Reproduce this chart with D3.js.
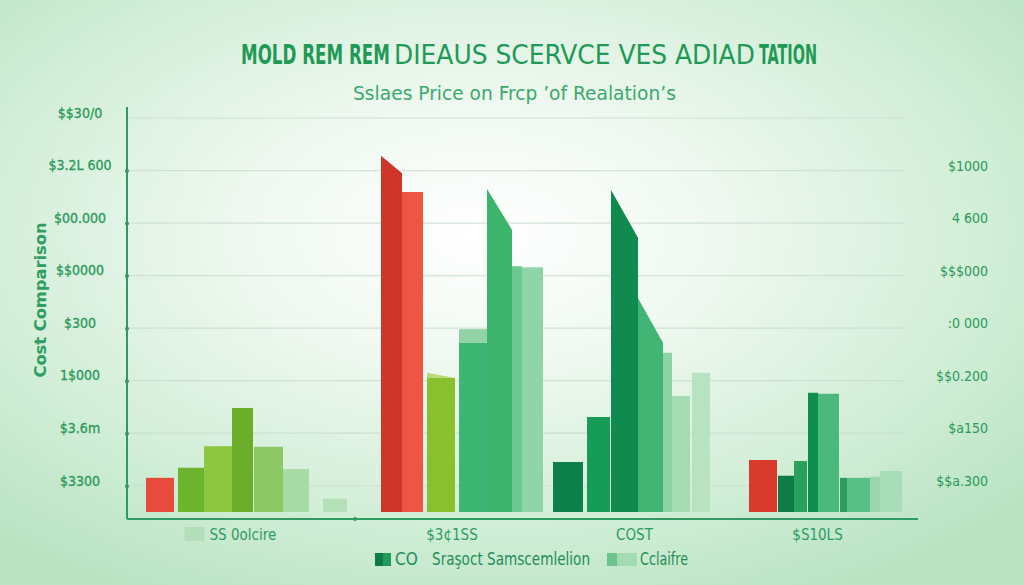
<!DOCTYPE html>
<html>
<head>
<meta charset="utf-8">
<script src="https://cdn.jsdelivr.net/npm/d3@7"></script>
<style>
  html, body { margin: 0; padding: 0; background: #e6f5ea; }
  svg { display: block; }
</style>
</head>
<body>
<svg id="chart" width="1024" height="585"></svg>
<script>
// ---------------- DATA ----------------
const titleParts = ["MOLD REM REM", "DIEAUS SCERVCE VES ADIAD", "TATION"];
const subtitle = "Sslaes Price  on Frcp \u2019of Realation\u2019s";
const yAxisTitle = "Cost Comparison";
const categories = ["SS 0olcire", "$3\u00a21SS", "COST", "$S10LS"];

const group1Values = [650, 840, 1250, 1980, 1240, 820, 250];
const group2Values = [6780, 6090, 2550, 3220, 6150, 4680, 4660];
const group3Values = [950, 1810, 6130, 4070, 3030, 2210, 2650];
const group4Values = [990, 690, 970, 2270, 2250, 650, 650, 670, 780];

// value at the right edge of slanted bar tops
const group2EndValues = [6450, 6090, 2550, 3220, 5370, 4680, 4660];
const group3EndValues = [950, 1810, 5220, 3220, 3030, 2210, 2650];
// light cap segments above some bars
const group2CapValues = [null, null, 2650, 3480, null, null, null];
const group2CapEndValues = [null, null, 2550, 3480, null, null, null];

const leftTickValues = [500, 1500, 2500, 3500, 4500, 5500, 6500, 7500];
const leftTickLabels = ["$3300", "$3.6m", "1$000", "$300", "$$0000", "$00.000", "$3.2L 600", "$$30/0"];
const rightTickValues = [500, 1500, 2500, 3500, 4500, 5500, 6500];
const rightTickLabels = ["$$a.300", "$a150", "$$0.200", ":0 000", "$$$000", "4  600", "$1000"];

const legendLabels = ["CO", "Sra\u015foct Samscemlelion", "Cclaifre"];

// ---------------- STYLE / LAYOUT ----------------
const FONT = "'Liberation Sans Narrow','DejaVu Sans Condensed','Arial Narrow',sans-serif";
const groupColors = [
  ["#e84a3b", "#6cb42e", "#8dc63f", "#6aae2a", "#8cc964", "#a9dba6", "#b4e0b7"],
  ["#d0352a", "#ee5544", "#88c02e", "#3db573", "#3cb46c", "#6cc791", "#90d5a9"],
  ["#0c7f4b", "#179c58", "#0f8b50", "#42b574", "#8bd2a4", "#a6dcb3", "#b8e3c1"],
  ["#d93a2e", "#0e7c46", "#2aa05d", "#0f8f4f", "#4bb97b", "#2b9c5d", "#58bf86", "#9bd7ae", "#a9ddb8"]
];
const capColors = [null, null, "#b9dc78", "#8fd3a6", null, null, null];
const barWidths = [
  [28, 26, 28, 21, 29, 26, 24],
  [21, 21, 28, 28, 25, 10, 21],
  [30, 23, 27, 25, 9, 18, 18],
  [28, 16, 13, 10, 21, 7, 23, 10, 22]
];
const barGaps = [
  [0, 4, 0, 0, 1, 0, 14],
  [0, 0, 4, 4, 0, 0, 0],
  [0, 4, 1, 0, 0, 0, 2],
  [0, 1, 0, 1, 0, 1, 0, 0, 0]
];
const groupGaps = [0, 34, 10, 39];
const labelShift = [-17, -10, 3, -8];

const values = [group1Values, group2Values, group3Values, group4Values];
const endValues = [group1Values, group2EndValues, group3EndValues, group4Values];
const caps = [[], group2CapValues, [], []];
const capEnds = [[], group2CapEndValues, [], []];

// build bar list (layout in slot units)
const bars = [];
const groupExtents = [];
let cursor = 0;
values.forEach((vals, g) => {
  cursor += groupGaps[g];
  const start = cursor + barGaps[g][0];
  vals.forEach((v, i) => {
    cursor += barGaps[g][i];
    bars.push({
      g, i, value: v, end: endValues[g][i],
      cap: caps[g][i] ?? null, capEnd: capEnds[g][i] ?? null,
      u0: cursor, u1: cursor + barWidths[g][i],
      color: groupColors[g][i], capColor: g === 1 ? capColors[i] : null
    });
    cursor += barWidths[g][i];
  });
  groupExtents.push([start, cursor]);
});
const totalUnits = cursor;

// ---------------- DRAW ----------------
const svg = d3.select("#chart");
const W = 1024, H = 585;

const defs = svg.append("defs");
const bg = defs.append("radialGradient").attr("id", "bg")
  .attr("cx", "47%").attr("cy", "40%").attr("r", "70%");
bg.append("stop").attr("offset", "0%").attr("stop-color", "#ffffff");
bg.append("stop").attr("offset", "30%").attr("stop-color", "#f1f9f2");
bg.append("stop").attr("offset", "70%").attr("stop-color", "#d2eed8");
bg.append("stop").attr("offset", "100%").attr("stop-color", "#b9e3c3");
svg.append("rect").attr("width", W).attr("height", H).attr("fill", "url(#bg)");

const plot = { left: 127, right: 905, top: 107, base: 512, axisY: 519 };
const x = d3.scaleLinear().domain([0, totalUnits]).range([146, 902]);
const y = d3.scaleLinear().domain([0, 7500]).range([plot.base, 118]);

// gridlines
svg.append("g").selectAll("line").data(leftTickValues).join("line")
  .attr("x1", plot.left).attr("x2", plot.right)
  .attr("y1", d => y(d)).attr("y2", d => y(d))
  .attr("stroke", "#c9ddd0").attr("stroke-width", 1.2).attr("opacity", 0.8);

// helper: place text at x with a horizontally scaled fit to a target width
function fitText(sel, x0, y0, target) {
  const natural = sel.node().getComputedTextLength();
  const k = target / natural;
  sel.attr("x", 0).attr("y", 0)
    .attr("transform", `translate(${x0},${y0}) scale(${k},1)`);
}

// title (three adjacent pieces with mixed weight)
const titleSpec = [
  { x: 241, len: 149, weight: "bold" },
  { x: 394, len: 361, weight: "normal" },
  { x: 759, len: 58, weight: "bold" }
];
titleParts.forEach((t, i) => {
  const el = svg.append("text")
    .attr("font-family", FONT).attr("font-size", 26)
    .attr("font-weight", titleSpec[i].weight).attr("fill", "#1f9a56")
    .text(t);
  fitText(el, titleSpec[i].x, 64, titleSpec[i].len);
});

const sub = svg.append("text")
  .attr("font-family", FONT).attr("font-size", 20).attr("fill", "#3aaa6c")
  .text(subtitle);
fitText(sub, 353, 100, 323);

// y axis title
svg.append("text")
  .attr("transform", "translate(46,300) rotate(-90)")
  .attr("text-anchor", "middle")
  .attr("font-family", FONT).attr("font-size", 15).attr("font-weight", "bold")
  .attr("fill", "#2e9e62")
  .attr("textLength", 155).attr("lengthAdjust", "spacingAndGlyphs")
  .text(yAxisTitle);

// left axis
const leftAxis = d3.axisLeft(y).tickValues(leftTickValues)
  .tickFormat((d, i) => leftTickLabels[i]).tickSize(0).tickPadding(0);
const gl = svg.append("g").attr("transform", `translate(${plot.left},0)`).call(leftAxis);
gl.select(".domain").remove();
gl.selectAll("text")
  .attr("x", -47).attr("dy", "-0.05em").attr("text-anchor", "middle")
  .attr("font-family", FONT).attr("font-size", 14).attr("font-weight", "normal")
  .attr("stroke", "#2a9a58").attr("stroke-width", 0.3)
  .attr("fill", "#2a9a58");
gl.selectAll(".tick").filter((d, i) => i < leftTickValues.length - 1)
  .append("circle").attr("r", 2).attr("fill", "#2f9a62");
svg.append("line").attr("x1", plot.left).attr("x2", plot.left)
  .attr("y1", plot.top).attr("y2", plot.axisY)
  .attr("stroke", "#2f9a62").attr("stroke-width", 2);

// right axis labels
const rightAxis = d3.axisRight(y).tickValues(rightTickValues)
  .tickFormat((d, i) => rightTickLabels[i]).tickSize(0).tickPadding(0);
const gr = svg.append("g").attr("transform", "translate(988,-5)").call(rightAxis);
gr.select(".domain").remove();
gr.selectAll("text").attr("text-anchor", "end")
  .attr("font-family", FONT).attr("font-size", 14)
  .attr("fill", "#2a9a58");

// bars
const barG = svg.append("g");
barG.selectAll("path.bar").data(bars).join("path").attr("class", "bar")
  .attr("d", d => {
    const x0 = x(d.u0), x1 = x(d.u1);
    return `M${x0},${y(0)}L${x0},${y(d.value)}L${x1},${y(d.end)}L${x1},${y(0)}Z`;
  })
  .attr("fill", d => d.color);
barG.selectAll("path.cap").data(bars.filter(d => d.cap !== null)).join("path").attr("class", "cap")
  .attr("d", d => {
    const x0 = x(d.u0), x1 = x(d.u1);
    return `M${x0},${y(d.value)}L${x0},${y(d.cap)}L${x1},${y(d.capEnd)}L${x1},${y(d.end)}Z`;
  })
  .attr("fill", d => d.capColor);

// bottom axis line
svg.append("line").attr("x1", plot.left).attr("x2", 918)
  .attr("y1", plot.axisY).attr("y2", plot.axisY)
  .attr("stroke", "#2f9a62").attr("stroke-width", 2);
svg.append("circle").attr("cx", x(groupExtents[0][1]) + 8).attr("cy", plot.axisY).attr("r", 2).attr("fill", "#2f9a62");

// category labels
categories.forEach((c, g) => {
  const cx = (x(groupExtents[g][0]) + x(groupExtents[g][1])) / 2 + labelShift[g];
  const t = svg.append("text").attr("y", 540)
    .attr("font-family", FONT).attr("font-size", 15).attr("fill", "#2e9c62")
    .text(c);
  if (g === 0) {
    t.attr("x", cx - 20).attr("text-anchor", "start");
    svg.append("rect").attr("x", cx - 45).attr("y", 527).attr("width", 20).attr("height", 14)
      .attr("fill", "#b2dfba");
  } else {
    t.attr("x", cx).attr("text-anchor", "middle");
  }
});

// legend
const leg = svg.append("g").attr("font-family", FONT).attr("font-size", 17).attr("fill", "#1f8f55");
leg.append("rect").attr("x", 375).attr("y", 553).attr("width", 8).attr("height", 13).attr("fill", "#0e7c46");
leg.append("rect").attr("x", 383).attr("y", 553).attr("width", 8).attr("height", 13).attr("fill", "#1f9c5c");
leg.append("text").attr("x", 395).attr("y", 565).text(legendLabels[0]);
leg.append("text").attr("x", 432).attr("y", 565)
  .attr("textLength", 158).attr("lengthAdjust", "spacingAndGlyphs").text(legendLabels[1]);
leg.append("rect").attr("x", 607).attr("y", 553).attr("width", 10).attr("height", 13).attr("fill", "#6cc38e");
leg.append("rect").attr("x", 617).attr("y", 553).attr("width", 20).attr("height", 13).attr("fill", "#a3dbb3");
leg.append("text").attr("x", 640).attr("y", 565)
  .attr("textLength", 48).attr("lengthAdjust", "spacingAndGlyphs").text(legendLabels[2]);
</script>
</body>
</html>
